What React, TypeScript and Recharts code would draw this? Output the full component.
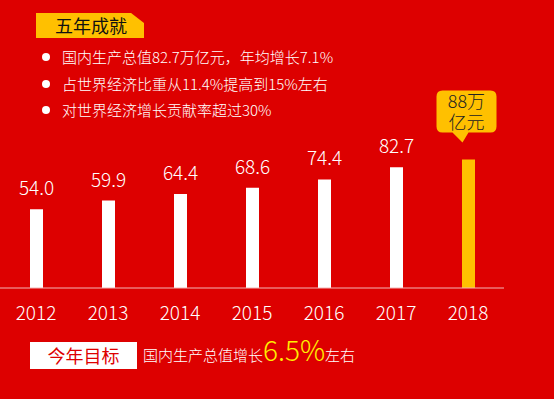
import React from 'react';
import { BarChart, Bar, XAxis, YAxis, LabelList, Cell } from 'recharts';

const years = ['2012', '2013', '2014', '2015', '2016', '2017', '2018'];
const gdp = [54.0, 59.9, 64.4, 68.6, 74.4, 82.7, 88];
const valueLabels = ['54.0', '59.9', '64.4', '68.6', '74.4', '82.7', ''];
const targetLabel = ['88万', '亿元'];
const bullets = [
  '国内生产总值82.7万亿元，年均增长7.1%',
  '占世界经济比重从11.4%提高到15%左右',
  '对世界经济增长贡献率超过30%',
];

const data = years.map((year, i) => ({ year, gdp: gdp[i], label: valueLabels[i] }));

const FONT = '"Noto Sans CJK SC", "Noto Sans", sans-serif';
const RED = '#DD0000';
const GOLD = '#FFC000';

const renderLabel = (props: any) => {
  const { x, y, width, index } = props;
  const cx = x + width / 2;
  if (index === years.length - 1) {
    // speech bubble above the forecast bar
    const left = cx - 32;
    const right = cx + 28;
    const top = y - 69;
    const bottom = y - 27;
    const r = 6;
    const tipX = cx - 6;
    const tipY = y - 17;
    const d = `M${left + r},${top} H${right - r} Q${right},${top} ${right},${top + r} V${bottom - r} Q${right},${bottom} ${right - r},${bottom} H${cx} L${tipX},${tipY} L${cx - 16},${bottom} H${left + r} Q${left},${bottom} ${left},${bottom - r} V${top + r} Q${left},${top} ${left + r},${top} Z`;
    return (
      <g>
        <path d={d} fill={GOLD} />
        <text textAnchor="middle" fontSize={18} fontWeight={300} fill="#222" fontFamily={FONT}>
          <tspan x={cx - 2} y={top + 17}>{targetLabel[0]}</tspan>
          <tspan x={cx - 2} y={top + 38}>{targetLabel[1]}</tspan>
        </text>
      </g>
    );
  }
  return (
    <text x={cx} y={y - 14} textAnchor="middle" fontSize={19} fontWeight={300} fill="#fff" fontFamily={FONT}>
      {valueLabels[index]}
    </text>
  );
};

export default function App() {
  return (
    <div style={{ position: 'fixed', left: 0, top: 0, width: 554, height: 399, background: RED, fontFamily: FONT, fontWeight: 300, overflow: 'hidden' }}>
      <BarChart width={554} height={399} data={data} margin={{ top: 142, right: 50, left: 0, bottom: 71 }}>
        <XAxis
          dataKey="year"
          axisLine={{ stroke: '#F3B5B5', strokeWidth: 1 }}
          tickLine={false}
          tickSize={0}
          tickMargin={19}
          height={40}
          tick={{ fill: '#fff', fontSize: 19, fontWeight: 300, fontFamily: FONT }}
          interval={0}
        />
        <YAxis hide domain={[0, 100]} />
        <Bar dataKey="gdp" barSize={13} isAnimationActive={false}>
          {data.map((d, i) => (
            <Cell key={d.year} fill={i === data.length - 1 ? GOLD : '#fff'} />
          ))}
          <LabelList dataKey="label" content={renderLabel} />
        </Bar>
      </BarChart>

      {/* title tag */}
      <div style={{ position: 'absolute', left: 36, top: 13, width: 89, height: 25, paddingLeft: 19, background: GOLD, clipPath: 'polygon(0 0, 88% 0, 100% 40%, 100% 100%, 0 100%)', color: '#111', fontSize: 18, fontWeight: 400, lineHeight: '25px', whiteSpace: 'nowrap' }}>
        五年成就
      </div>

      {bullets.map((b, i) => (
        <div key={b} style={{ position: 'absolute', left: 42, top: 47 + i * 26.5, color: '#fff', fontSize: 15, lineHeight: '20px', whiteSpace: 'nowrap', display: 'flex', alignItems: 'center' }}>
          <span style={{ display: 'inline-block', width: 8, height: 8, borderRadius: 4, background: '#fff', marginRight: 12 }} />
          {b}
        </div>
      ))}

      {/* this year's target */}
      <div style={{ position: 'absolute', left: 30, top: 342, width: 107, height: 27, background: '#fff', color: RED, fontSize: 18, fontWeight: 400, lineHeight: '27px', textAlign: 'center' }}>
        今年目标
      </div>
      <div style={{ position: 'absolute', left: 143, top: 331, color: '#fff', fontSize: 15, whiteSpace: 'nowrap', display: 'flex', alignItems: 'baseline' }}>
        <span>国内生产总值增长</span>
        <span style={{ color: '#FFF000', fontSize: 28, lineHeight: '36px' }}>6.5%</span>
        <span>左右</span>
      </div>
    </div>
  );
}
